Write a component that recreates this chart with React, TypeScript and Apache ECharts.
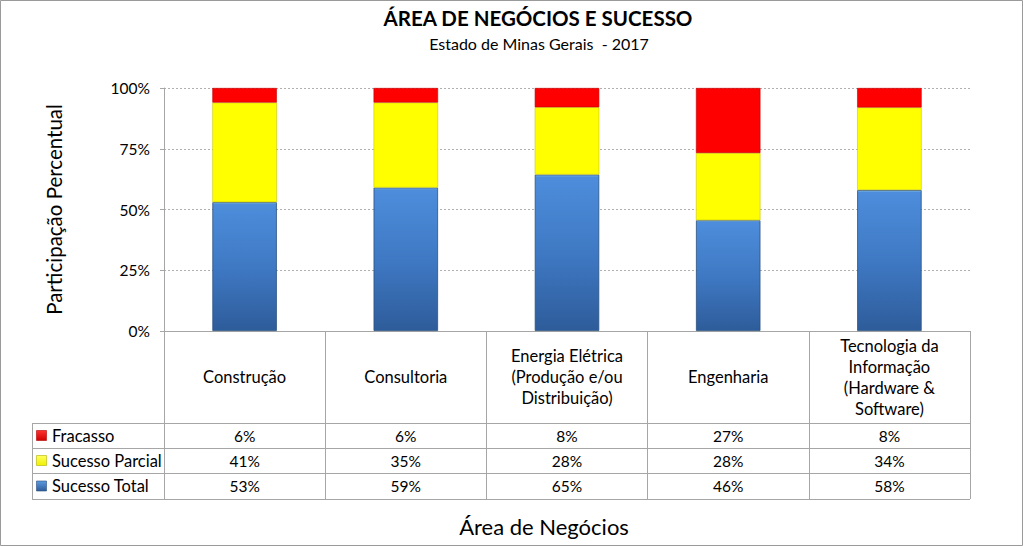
import React, { useEffect, useRef } from "react";
import * as echarts from "echarts";

const categories = [
  "Construção",
  "Consultoria",
  "Energia Elétrica\n(Produção e/ou\nDistribuição)",
  "Engenharia",
  "Tecnologia da\nInformação\n(Hardware &\nSoftware)",
];
const fracasso = [6, 6, 8, 27, 8];
const sucessoParcial = [41, 35, 28, 28, 34];
const sucessoTotal = [53, 59, 65, 46, 58];
const yTicks = [0, 25, 50, 75, 100];

const FONT = "Lato";
const GRAY = "#a6a6a6";

const App: React.FC = () => {
  const ref = useRef<HTMLDivElement>(null);
  useEffect(() => {
    if (!ref.current) return;
    const chart = echarts.init(ref.current, undefined, { renderer: "svg" });
    const sums = categories.map((_, i) => fracasso[i] + sucessoParcial[i] + sucessoTotal[i]);
    const norm = (arr: number[]) => arr.map((v, i) => (v / sums[i]) * 100);

    const gridLeft = 164;
    const gridRight = 970;
    const gridTop = 88;
    const gridBottom = 331;
    const rowLines = [423, 448, 473, 499];
    const rowCenters = [435.5, 460.5, 486];
    const rowNames = ["Fracasso", "Sucesso Parcial", "Sucesso Total"];
    const rowData = [fracasso, sucessoParcial, sucessoTotal];
    const keyFills: any[] = [
      new echarts.graphic.LinearGradient(0, 0, 0, 1, [
        { offset: 0, color: "#ff3030" },
        { offset: 1, color: "#d00000" },
      ]),
      new echarts.graphic.LinearGradient(0, 0, 0, 1, [
        { offset: 0, color: "#ffff60" },
        { offset: 1, color: "#f0f000" },
      ]),
      new echarts.graphic.LinearGradient(0, 0, 0, 1, [
        { offset: 0, color: "#5b9be0" },
        { offset: 1, color: "#2e5c99" },
      ]),
    ];
    const keyStroke = ["#b00000", "#b0b000", "#2a4f80"];

    const graphics: any[] = [
      {
        type: "rect",
        shape: { x: 0.5, y: 0.5, width: 1022, height: 545 },
        style: { fill: "none", stroke: "#9a9a9a", lineWidth: 1 },
        silent: true,
      },
      {
        type: "text",
        x: 538,
        y: 18,
        style: {
          text: "ÁREA DE NEGÓCIOS E SUCESSO",
          font: `bold 20.5px ${FONT}`,
          fill: "#000",
          align: "center",
          verticalAlign: "middle",
        },
      },
      {
        type: "text",
        x: 539,
        y: 43,
        style: {
          text: "Estado de Minas Gerais  - 2017",
          font: `16px ${FONT}`,
          fill: "#000",
          align: "center",
          verticalAlign: "middle",
        },
      },
      {
        type: "text",
        x: 544,
        y: 526,
        style: {
          text: "Área de Negócios",
          font: `22px ${FONT}`,
          fill: "#000",
          align: "center",
          verticalAlign: "middle",
        },
      },
      ...rowLines.map((y) => ({
        type: "line",
        shape: { x1: 32, y1: y + 0.5, x2: gridRight, y2: y + 0.5 },
        style: { stroke: GRAY, lineWidth: 1 },
        silent: true,
      })),
      {
        type: "line",
        shape: { x1: 32.5, y1: rowLines[0], x2: 32.5, y2: rowLines[3] + 0.5 },
        style: { stroke: GRAY, lineWidth: 1 },
        silent: true,
      },
      ...rowNames.map((name, r) => ({
        type: "text",
        x: 52,
        y: rowCenters[r],
        style: {
          text: name,
          font: `16.5px ${FONT}`,
          fill: "#000",
          align: "left",
          verticalAlign: "middle",
        },
      })),
      ...rowNames.map((_, r) => ({
        type: "rect",
        shape: { x: 36.5, y: rowCenters[r] - 5, width: 10, height: 10 },
        style: { fill: keyFills[r], stroke: keyStroke[r], lineWidth: 0.6 },
      })),
    ];

    const valueAxis = (idx: number, margin: number) => ({
      type: "category",
      gridIndex: 0,
      position: "bottom",
      data: categories,
      axisLine: { show: false },
      axisTick: { show: false },
      splitLine: { show: false },
      axisLabel: {
        interval: 0,
        margin,
        verticalAlign: "middle",
        fontFamily: FONT,
        fontSize: 15.5,
        color: "#000",
        formatter: (_v: string, i: number) => `${rowData[idx][i]}%`,
      },
    });

    const blueGrad = new echarts.graphic.LinearGradient(0, 0, 0, 1, [
      { offset: 0, color: "#8cc0f0" },
      { offset: 0.012, color: "#4d8ddb" },
      { offset: 0.5, color: "#3f79c4" },
      { offset: 1, color: "#2e5c9a" },
    ]);

    chart.setOption({
      animation: false,
      grid: {
        left: gridLeft,
        right: 1023 - gridRight,
        top: gridTop,
        bottom: 546 - gridBottom,
        containLabel: false,
      },
      xAxis: [
        {
          type: "category",
          data: categories,
          axisLine: { show: true, lineStyle: { color: GRAY, width: 1 } },
          axisTick: {
            show: true,
            interval: 0,
            length: 168,
            alignWithLabel: false,
            lineStyle: { color: GRAY, width: 1 },
          },
          axisLabel: {
            interval: 0,
            margin: 46,
            verticalAlign: "middle",
            align: "center",
            lineHeight: 21,
            fontFamily: FONT,
            fontSize: 16.5,
            color: "#000",
          },
        },
        valueAxis(0, 104.5),
        valueAxis(1, 129.5),
        valueAxis(2, 155),
      ],
      yAxis: {
        type: "value",
        min: 0,
        max: 100,
        interval: 25,
        name: "Participação Percentual",
        nameLocation: "middle",
        nameGap: 100,
        nameTextStyle: { fontFamily: FONT, fontSize: 20.5, color: "#000" },
        axisLine: { show: true, lineStyle: { color: GRAY } },
        axisTick: { show: true, length: 4, lineStyle: { color: GRAY } },
        axisLabel: {
          margin: 14,
          fontFamily: FONT,
          fontSize: 15.5,
          color: "#000",
          formatter: (v: number) => (yTicks.includes(v) ? `${v}%` : ""),
        },
        splitLine: {
          show: true,
          lineStyle: { color: "#b0b0b0", type: [2, 2], width: 1 },
        },
      },
      series: [
        {
          name: "Sucesso Total",
          type: "bar",
          stack: "s",
          barWidth: "40%",
          data: norm(sucessoTotal),
          itemStyle: { color: blueGrad, borderColor: "#2b5080", borderWidth: 0.8 },
        },
        {
          name: "Sucesso Parcial",
          type: "bar",
          stack: "s",
          barWidth: "40%",
          data: norm(sucessoParcial),
          itemStyle: { color: "#ffff00", borderColor: "#c8c800", borderWidth: 0.6 },
        },
        {
          name: "Fracasso",
          type: "bar",
          stack: "s",
          barWidth: "40%",
          data: norm(fracasso),
          itemStyle: { color: "#ff0000", borderColor: "#c00000", borderWidth: 0.6 },
        },
      ],
      graphic: graphics,
    });
    return () => chart.dispose();
  }, []);
  return (
    <div
      ref={ref}
      style={{ position: "absolute", left: 0, top: 0, width: 1023, height: 546, background: "#fff" }}
    />
  );
};

export default App;
